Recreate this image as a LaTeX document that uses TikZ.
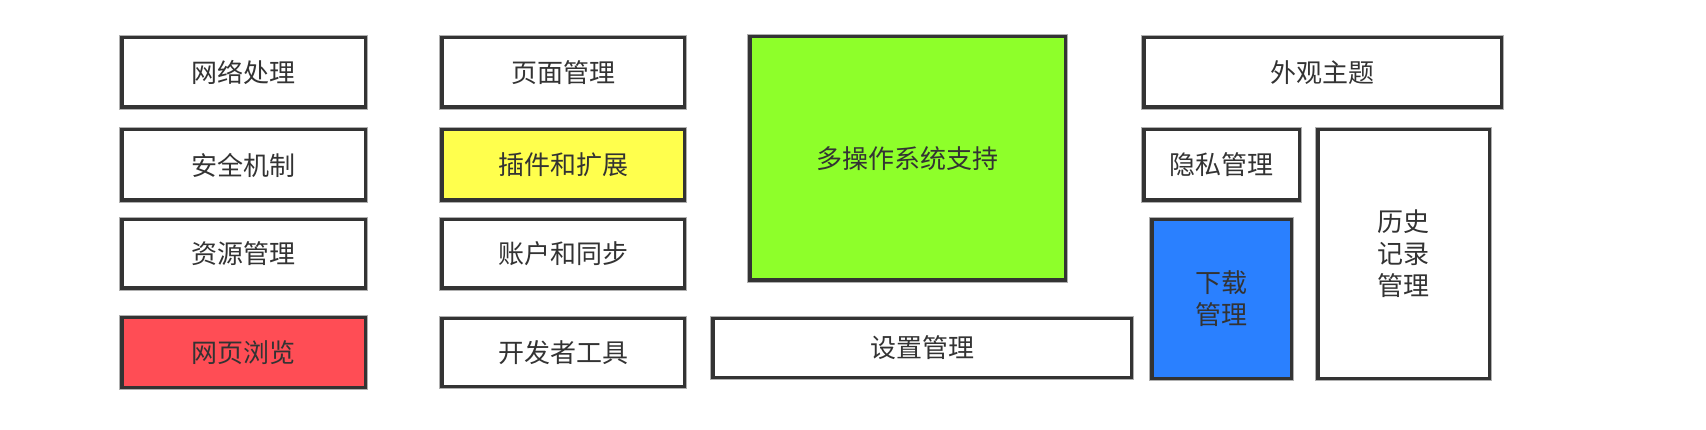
\documentclass[tikz,border=0pt]{standalone}
\usepackage{fontspec}
\newfontfamily\cjk{Noto Sans CJK SC}
\definecolor{edge}{HTML}{333333}
\definecolor{halo}{HTML}{B0B0B0}
\definecolor{txt}{HTML}{333333}
\definecolor{redf}{HTML}{FF4D55}
\definecolor{yelf}{HTML}{FFFF4D}
\definecolor{grnf}{HTML}{8EFF2A}
\definecolor{bluf}{HTML}{2A80FF}
\tikzset{
  box/.style={rectangle, draw=edge, line width=3.5pt, fill=white,
    preaction={draw=halo, line width=5.5pt},
    inner sep=0pt, align=center, text=txt,
    font=\cjk\fontsize{26}{32}\selectfont},
}
\begin{document}
\begin{tikzpicture}[x=1pt,y=-1pt]
\useasboundingbox (0,0) rectangle (1706,430);
% column 1
\node[box, minimum width=243.5pt, minimum height=69.5pt] (net) at (243.5,72.5) {网络处理};
\node[box, minimum width=243.5pt, minimum height=70.5pt] (sec) at (243.5,165) {安全机制};
\node[box, minimum width=243.5pt, minimum height=68.5pt] (res) at (243.5,254) {资源管理};
\node[box, fill=redf, minimum width=243.5pt, minimum height=69.5pt] (web) at (243.5,352.5) {网页浏览};
% column 2
\node[box, minimum width=242.5pt, minimum height=69.5pt] (page) at (563,72.5) {页面管理};
\node[box, fill=yelf, minimum width=242.5pt, minimum height=70.5pt] (plug) at (563,165) {插件和扩展};
\node[box, minimum width=242.5pt, minimum height=68.5pt] (acct) at (563,254) {账户和同步};
\node[box, minimum width=242.5pt, minimum height=67.5pt] (dev) at (563,352.5) {开发者工具};
% middle
\node[box, fill=grnf, minimum width=315.5pt, minimum height=243.5pt] (os) at (907.5,158.5) {多操作系统支持};
\node[box, minimum width=418.5pt, minimum height=58.5pt] (set) at (922,348) {设置管理};
% right
\node[box, minimum width=357.5pt, minimum height=69.5pt] (theme) at (1322.5,72.5) {外观主题};
\node[box, minimum width=155.5pt, minimum height=70.5pt] (priv) at (1221.5,165) {隐私管理};
\node[box, fill=bluf, minimum width=139.5pt, minimum height=158.5pt] (dl) at (1221.5,299) {下载\\管理};
\node[box, minimum width=171.5pt, minimum height=248.5pt] (hist) at (1403.5,254) {历史\\记录\\管理};
\end{tikzpicture}
\end{document}
